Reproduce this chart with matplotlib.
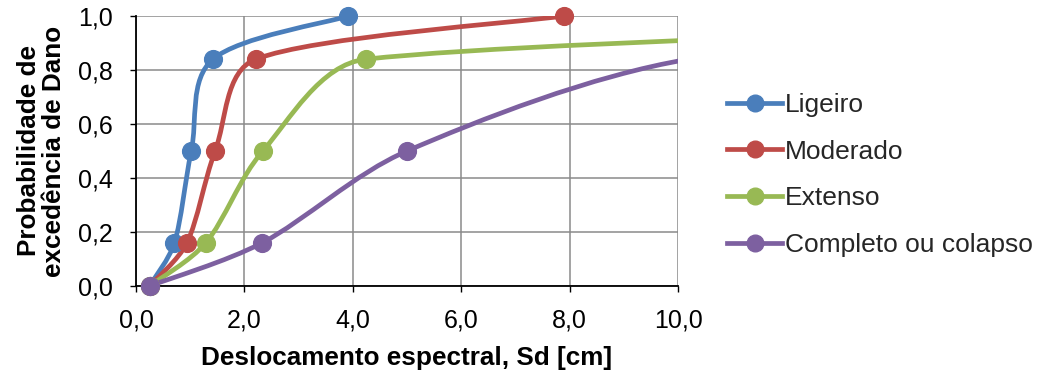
import numpy as np
import matplotlib.pyplot as plt
from matplotlib.path import Path
from matplotlib.patches import PathPatch
from matplotlib.lines import Line2D
from matplotlib.ticker import FuncFormatter, MultipleLocator

plt.rcParams['font.family'] = ['Liberation Sans', 'DejaVu Sans']

# dados
nomes = ['Ligeiro', 'Moderado', 'Extenso', 'Completo ou colapso']
cores = ['#4A7EBB', '#BE4B48', '#98B954', '#7D60A0']
prob = [0.0, 0.16, 0.5, 0.84, 1.0]
sd_ligeiro = [0.25, 0.71, 1.02, 1.42, 3.92]
sd_moderado = [0.25, 0.94, 1.46, 2.21, 7.89]
sd_extenso = [0.25, 1.29, 2.34, 4.24, 25.0]
sd_completo = [0.25, 2.33, 5.0, 10.2, 20.0]
series = [sd_ligeiro, sd_moderado, sd_extenso, sd_completo]

xmax = 10.0

fig = plt.figure(figsize=(10.42, 3.76), dpi=100)
ax = fig.add_axes([136 / 1042, 1 - 286 / 376, 542 / 1042, 270 / 376])
ax.set_xlim(0, xmax)
ax.set_ylim(0, 1)

# escala aproximada em pixels, para suavizar como o Excel
sx, sy = 54.0, 269.0


def curva_suave(xs, ys):
    p = np.column_stack([np.array(xs) * sx, np.array(ys) * sy])
    n = len(p)
    verts = [p[0]]
    codes = [Path.MOVETO]
    for i in range(n - 1):
        p0 = p[i - 1] if i > 0 else p[i]
        p1, p2 = p[i], p[i + 1]
        p3 = p[i + 2] if i + 2 < n else p[i + 1]
        d = np.hypot(*(p2 - p1)) / 3.0
        o1 = (p2 - p0) / 6.0
        o2 = (p3 - p1) / 6.0
        if np.hypot(*o1) > d:
            o1 = o1 / np.hypot(*o1) * d
        if np.hypot(*o2) > d:
            o2 = o2 / np.hypot(*o2) * d
        verts += [p1 + o1, p2 - o2, p2]
        codes += [Path.CURVE4] * 3
    verts = np.array(verts) / [sx, sy]
    return Path(verts, codes)


for xs, cor in zip(series, cores):
    ax.add_patch(PathPatch(curva_suave(xs, prob), fc='none', ec=cor, lw=3.4,
                           capstyle='round', joinstyle='round', zorder=3))
    xs = np.array(xs)
    m = xs <= xmax
    ax.plot(xs[m], np.array(prob)[m], 'o', color=cor, ms=12.8, clip_on=False, zorder=4)

ax.xaxis.set_major_locator(MultipleLocator(2))
ax.yaxis.set_major_locator(MultipleLocator(0.2))
fmt = FuncFormatter(lambda v, pos: f'{v:.1f}'.replace('.', ','))
ax.xaxis.set_major_formatter(fmt)
ax.yaxis.set_major_formatter(fmt)
ax.tick_params(labelsize=18, direction='out', length=4, width=1, colors='black')
ax.tick_params(axis='x', pad=12)
ax.tick_params(axis='y', pad=13)

ax.grid(True, color='#8a8a8a', lw=1.1)
ax.set_axisbelow(True)
for s in ['top', 'right']:
    ax.spines[s].set_visible(False)
for s in ['left', 'bottom']:
    ax.spines[s].set_linewidth(1.3)
    ax.spines[s].set_zorder(2.5)

ax.set_xlabel('Deslocamento espectral, Sd [cm]', fontsize=18.8, fontweight='bold', labelpad=10)
ax.set_ylabel('Probabilidade de\nexcedência de Dano', fontsize=18.8, fontweight='bold',
              linespacing=1.05)
ax.yaxis.set_label_coords(-0.13, 0.5)

handles = [Line2D([], [], color=c, lw=3.4, marker='o', ms=12) for c in cores]
fig.legend(handles, nomes, loc='center left', bbox_to_anchor=(0.6977, 0.5346), frameon=False,
           fontsize=19, handlelength=2.1, handletextpad=0.08, labelspacing=0.86,
           borderaxespad=0, borderpad=0, labelcolor='#262626')

fig.savefig('out.png', dpi=100)
